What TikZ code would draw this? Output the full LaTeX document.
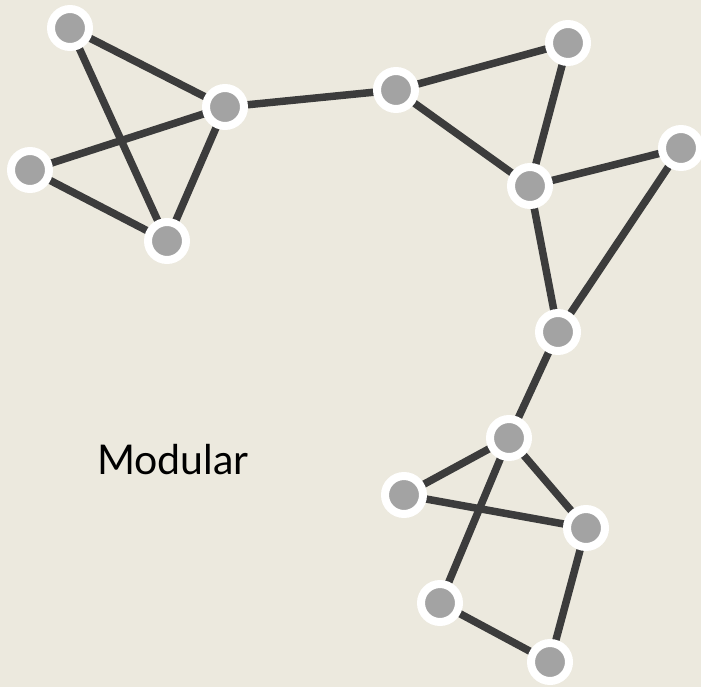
\documentclass[tikz,border=0pt]{standalone}
\usepackage{fontspec}
\setmainfont{Lato}
\usetikzlibrary{backgrounds}
\definecolor{bg}{HTML}{ECE9DE}
\definecolor{edgec}{HTML}{3C3C3C}
\definecolor{nodec}{HTML}{A3A3A3}
\begin{document}
\begin{tikzpicture}[x=1pt,y=-1pt,
  vert/.style={circle,fill=nodec,draw=white,line width=8pt,minimum size=38pt,inner sep=0pt},
  link/.style={draw=edgec,line width=7.5pt}]
\useasboundingbox (0,0) rectangle (701,687);
\node[vert] (A) at (70,28) {};
\node[vert] (B) at (225,107) {};
\node[vert] (C) at (30,170) {};
\node[vert] (D) at (167,241) {};
\node[vert] (E) at (396,90) {};
\node[vert] (F) at (568,43) {};
\node[vert] (G) at (530,186) {};
\node[vert] (H) at (681,148) {};
\node[vert] (I) at (558,332) {};
\node[vert] (J) at (509,438) {};
\node[vert] (K) at (404,495) {};
\node[vert] (L) at (586,528) {};
\node[vert] (M) at (440,603) {};
\node[vert] (N) at (550,662) {};
\node[anchor=base west,inner sep=0pt,font=\fontsize{41}{48}\selectfont] (lbl) at (97,474) {Modular};
\begin{pgfonlayer}{background}
\fill[bg] (0,0) rectangle (701,687);
\foreach \u/\v in {A/B,A/D,C/B,C/D,B/D,B/E,E/F,E/G,F/G,G/H,G/I,H/I,I/J,J/K,J/L,K/L,J/M,M/N,L/N}
  \draw[link] (\u.center) -- (\v.center);
\end{pgfonlayer}
\end{tikzpicture}
\end{document}
